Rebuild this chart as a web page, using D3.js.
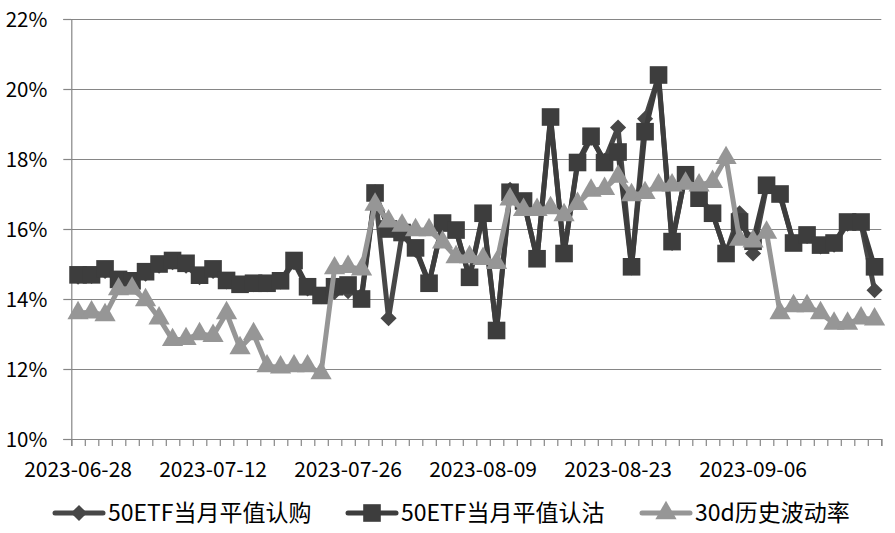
<!DOCTYPE html>
<html><head><meta charset="utf-8">
<script src="https://cdn.jsdelivr.net/npm/d3@7"></script>
<style>
html,body{margin:0;padding:0;background:#fff;}
svg text{font-family:"Noto Sans CJK SC","Noto Sans",sans-serif;fill:#000;}
</style></head>
<body>
<svg id="chart" width="895" height="533"></svg>
<script>
const dates = ["2023-06-28","2023-06-29","2023-06-30","2023-07-03","2023-07-04","2023-07-05","2023-07-06","2023-07-07","2023-07-10","2023-07-11",
"2023-07-12","2023-07-13","2023-07-14","2023-07-17","2023-07-18","2023-07-19","2023-07-20","2023-07-21","2023-07-24","2023-07-25",
"2023-07-26","2023-07-27","2023-07-28","2023-07-31","2023-08-01","2023-08-02","2023-08-03","2023-08-04","2023-08-07","2023-08-08",
"2023-08-09","2023-08-10","2023-08-11","2023-08-14","2023-08-15","2023-08-16","2023-08-17","2023-08-18","2023-08-21","2023-08-22",
"2023-08-23","2023-08-24","2023-08-25","2023-08-28","2023-08-29","2023-08-30","2023-08-31","2023-09-01","2023-09-04","2023-09-05",
"2023-09-06","2023-09-07","2023-09-08","2023-09-11","2023-09-12","2023-09-13","2023-09-14","2023-09-15","2023-09-18","2023-09-19"];

const callIV = [14.64,14.66,14.80,14.52,14.48,14.72,14.95,15.05,14.95,14.62,
14.80,14.50,14.40,14.42,14.42,14.50,15.05,14.30,14.08,14.20,
14.22,14.10,17.05,13.45,15.85,15.40,14.45,16.15,15.95,14.60,
16.40,13.10,17.12,16.80,15.15,19.15,15.30,17.85,18.60,17.95,
18.90,14.90,19.15,20.35,15.60,17.55,16.90,16.45,15.30,16.45,
15.30,17.20,16.95,15.60,15.80,15.50,15.55,16.15,16.15,14.25];

const putIV = [14.69,14.69,14.86,14.56,14.52,14.78,15.00,15.10,15.02,14.68,
14.86,14.53,14.42,14.45,14.45,14.52,15.10,14.35,14.10,14.35,
14.40,14.00,17.03,16.00,15.90,15.46,14.45,16.17,15.97,14.62,
16.45,13.10,17.05,16.80,15.15,19.20,15.30,17.90,18.65,17.90,
18.20,14.92,18.78,20.40,15.64,17.55,16.88,16.45,15.30,16.20,
15.65,17.25,17.00,15.60,15.83,15.54,15.60,16.20,16.20,14.92];

const hv30 = [13.60,13.62,13.54,14.28,14.30,13.97,13.45,12.83,12.86,13.00,
12.95,13.60,12.60,13.00,12.08,12.05,12.08,12.08,11.88,14.88,
14.92,14.85,16.70,16.22,16.10,15.97,15.97,15.62,15.20,15.20,
15.15,15.03,16.85,16.55,16.55,16.60,16.40,16.72,17.10,17.15,
17.50,16.97,17.03,17.25,17.25,17.30,17.25,17.35,18.03,15.70,
15.65,15.90,13.60,13.80,13.80,13.60,13.30,13.30,13.45,13.42];

const seriesNames = ["50ETF当月平值认购","50ETF当月平值认沽","30d历史波动率"];
const yTicks = [10,12,14,16,18,20,22];
const xLabelStep = 10;

const svg = d3.select("#chart");
const L = 71.3, R = 881.3, T = 19, B = 439;

const x = d3.scaleBand().domain(d3.range(dates.length)).range([L, R]).padding(0);
const xc = i => x(i) + x.bandwidth()/2;
const y = d3.scaleLinear().domain([10,22]).range([B, T]);

// gridlines
svg.append("g").attr("transform",`translate(${L},0)`)
  .call(d3.axisLeft(y).tickValues(yTicks.slice(1)).tickSize(-(R-L)).tickFormat(""))
  .call(g=>g.select(".domain").remove())
  .call(g=>g.selectAll("line").attr("stroke","#868686").attr("stroke-width",1.2));

// y axis
const ya = svg.append("g").attr("transform",`translate(${L},0)`)
  .call(d3.axisLeft(y).tickValues(yTicks).tickSize(8).tickPadding(16).tickFormat(d=>d+"%"));
ya.select(".domain").attr("stroke","#868686").attr("stroke-width",1.2);
ya.selectAll("line").attr("stroke","#868686").attr("stroke-width",1.2);
ya.selectAll("text").attr("font-size",20.5).attr("font-family",'"Noto Sans CJK SC",sans-serif').attr("dy","0.36em");

// x axis tick marks at category boundaries
const xb = d3.scaleLinear().domain([0,dates.length]).range([L,R]);
const xa = svg.append("g").attr("transform",`translate(0,${B})`)
  .call(d3.axisBottom(xb).tickValues(d3.range(dates.length+1)).tickSize(7).tickFormat(""));
xa.select(".domain").attr("stroke","#868686").attr("stroke-width",1.2);
xa.selectAll("line").attr("stroke","#868686").attr("stroke-width",1.2);

// x labels
const xl = svg.append("g").attr("transform",`translate(0,${B})`)
  .call(d3.axisBottom(x).tickValues(d3.range(0,dates.length,xLabelStep)).tickSize(0).tickPadding(23).tickFormat(i=>dates[i]));
xl.select(".domain").remove();
xl.selectAll("text").attr("font-size",21).attr("font-family",'"Noto Sans CJK SC",sans-serif');

const cols = ["#474747","#3d3d3d","#969696"];
const data = [callIV, putIV, hv30];

const line = d3.line().x((d,i)=>xc(i)).y(d=>y(d));
const symFor = k => k===0 ? d3.symbol().type(d3.symbolSquare).size(130)()
             : k===1 ? d3.symbol().type(d3.symbolSquare).size(310)()
             : d3.symbol().type(d3.symbolTriangle).size(195)();

data.forEach((arr,k)=>{
  const g = svg.append("g");
  g.append("path").datum(arr).attr("d",line).attr("fill","none")
    .attr("stroke",cols[k]).attr("stroke-width",5).attr("stroke-linejoin","round");
  g.selectAll("path.m").data(arr).join("path").attr("class","m")
    .attr("d", symFor(k))
    .attr("transform",(d,i)=>`translate(${xc(i)},${y(d)})` + (k===0?" rotate(45)":""))
    .attr("fill",cols[k]);
});

// legend
const legX = [55, 348, 642];
const legY = 513;
seriesNames.forEach((n,k)=>{
  const g = svg.append("g");
  g.append("line").attr("x1",legX[k]).attr("x2",legX[k]+48).attr("y1",legY).attr("y2",legY)
    .attr("stroke",cols[k]).attr("stroke-width",5).attr("stroke-linecap","round");
  g.append("path")
    .attr("d", symFor(k))
    .attr("transform",`translate(${legX[k]+24},${legY})`+(k===0?" rotate(45)":""))
    .attr("fill",cols[k]);
  g.append("text").attr("x",legX[k]+53).attr("y",legY).attr("dy","0.36em")
    .attr("font-size",23).text(n);
});
</script>
</body></html>
